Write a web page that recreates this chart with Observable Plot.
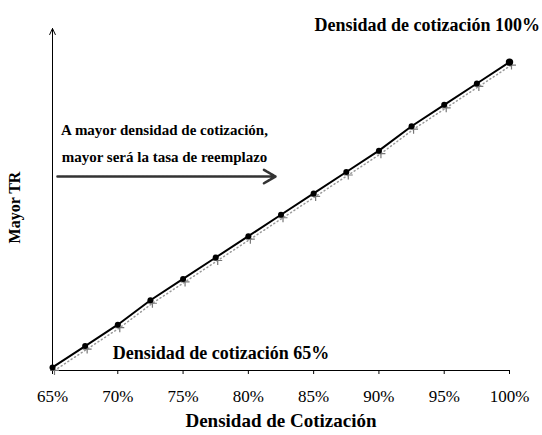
<!DOCTYPE html>
<html><head><meta charset="utf-8">
<script src="https://cdn.jsdelivr.net/npm/d3@7"></script>
<script src="https://cdn.jsdelivr.net/npm/@observablehq/plot@0.6"></script>
<style>body{margin:0;background:#fff}</style>
</head><body><div id="chart"></div>
<script>
const densidad = [0.65,0.675,0.70,0.725,0.75,0.775,0.80,0.825,0.85,0.875,0.90,0.925,0.95,0.975,1.00];
const tasaReemplazo = [0,7,14,22,29,36,43,50,57,64,71,79,86,93,100];
const xTicks = [0.65,0.70,0.75,0.80,0.85,0.90,0.95,1.00];
const xDomain = [0.65,1.00];
const yDomain = [-1,111];
const labels = [
  {x:0.937, y:112, text:"Densidad de cotización 100%", size:18},
  {x:0.779, y:4.6, text:"Densidad de cotización 65%", size:18},
  {x:0.7358, y:77.6, text:"A mayor densidad de cotización,", size:15},
  {x:0.7358, y:68.7, text:"mayor será la tasa de reemplazo", size:15}
];
const arrowNote = [{x1:0.6538, x2:0.8208, y:62.5}];

const data = densidad.map((d,i)=>({d, v:tasaReemplazo[i], last:i===densidad.length-1}));
const serif = "'Liberation Serif', 'DejaVu Serif', serif";

const chart = Plot.plot({
  width:542, height:435,
  marginLeft:52, marginRight:33, marginTop:28, marginBottom:65,
  style:{fontFamily:serif, fontSize:"17px", background:"#fff", color:"#000"},
  x:{domain:xDomain, label:null},
  y:{domain:yDomain, axis:null},
  marks:[
    Plot.ruleY([yDomain[0]], {stroke:"#000", strokeWidth:1.2}),
    Plot.arrow([{}], {x1:()=>xDomain[0], x2:()=>xDomain[0], y1:()=>yDomain[0], y2:()=>yDomain[1], stroke:"#000", strokeWidth:1, headLength:10, headAngle:50}),
    Plot.axisX({ticks:xTicks, tickFormat:d=>Math.round(d*100)+"%", tickSize:4, tickPadding:15, fontSize:17, fontFamily:serif, label:null, stroke:"#000"}),
    Plot.line(data, {x:"d", y:"v", stroke:"#999", strokeWidth:1.5, strokeDasharray:"1,3", dx:2, dy:3}),
    Plot.dot(data, {x:"d", y:"v", symbol:"plus", r:3, stroke:"#777", strokeWidth:1.2, dx:2, dy:3}),
    Plot.line(data, {x:"d", y:"v", stroke:"#000", strokeWidth:2}),
    Plot.dot(data, {x:"d", y:"v", r:d=>d.last?5:3.3, fill:"#000"}),
    Plot.arrow(arrowNote, {x1:"x1", x2:"x2", y1:"y", y2:"y", stroke:"#333", strokeWidth:2.5, headLength:8, strokeDasharray:"3,1"}),
    Plot.text(labels, {x:"x", y:"y", text:"text", fontSize:"size", fontWeight:"bold", fontFamily:serif, fill:"#000"}),
    Plot.text(["Densidad de Cotización"], {frameAnchor:"bottom", dy:56, fontSize:19, fontWeight:"bold", fontFamily:serif, fill:"#000", text:d=>d}),
    Plot.text(["Mayor TR"], {frameAnchor:"left", textAnchor:"middle", dx:-38, dy:8, rotate:-90, fontSize:16, fontWeight:"bold", fontFamily:serif, fill:"#000", text:d=>d})
  ]
});
document.getElementById("chart").appendChild(chart);
</script></body></html>
